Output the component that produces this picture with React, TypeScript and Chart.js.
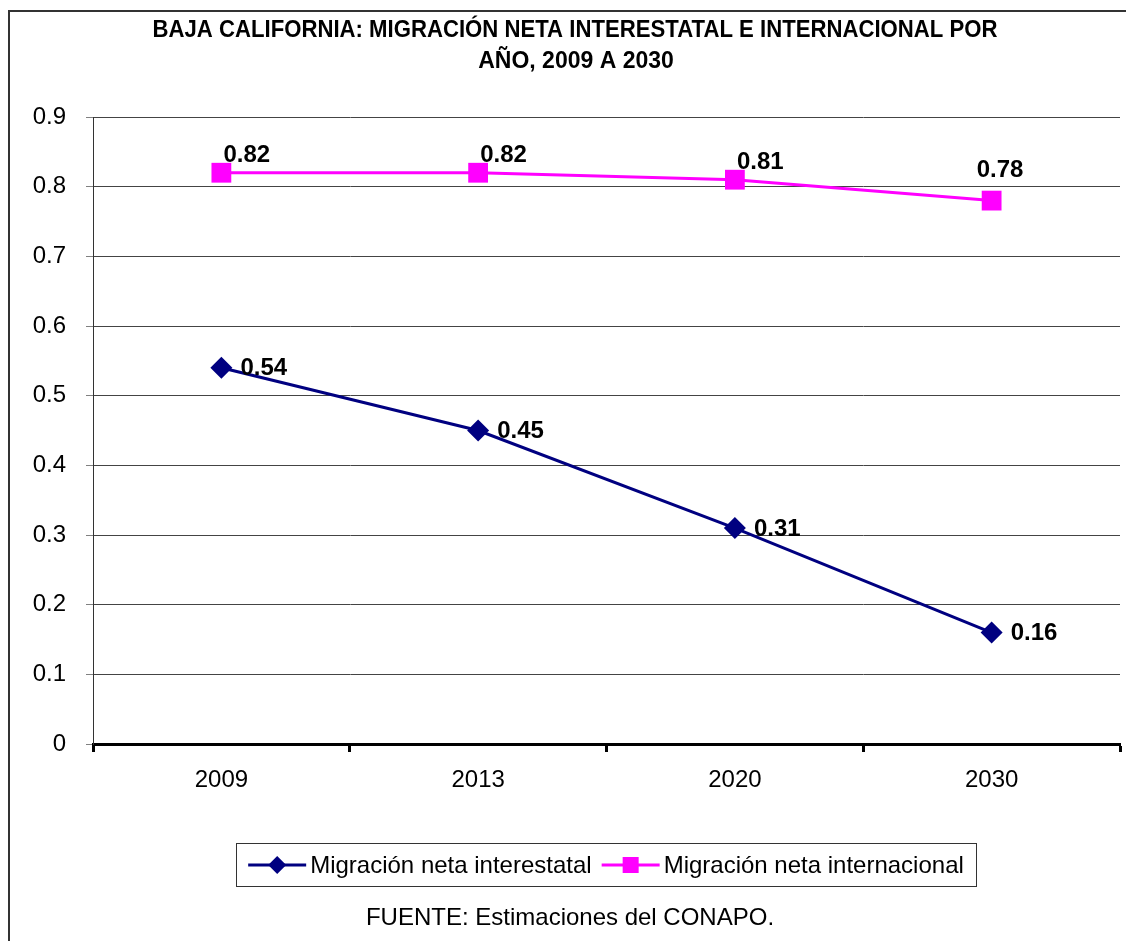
import React, { useEffect, useRef } from 'react';
import { Chart, registerables } from 'chart.js';

Chart.register(...registerables);

const years = ['2009', '2013', '2020', '2030'];
const interestatal = [0.54, 0.45, 0.31, 0.16];
const internacional = [0.82, 0.82, 0.81, 0.78];
const titleLines = [
  'BAJA CALIFORNIA: MIGRACIÓN NETA INTERESTATAL E INTERNACIONAL POR',
  'AÑO, 2009 A 2030',
];
const seriesNames = ['Migración neta interestatal', 'Migración neta internacional'];
const sourceNote = 'FUENTE: Estimaciones del CONAPO.';

const NAVY = '#000080';
const MAGENTA = '#FF00FF';
const FONT = 'Arial, "Liberation Sans", sans-serif';

function drawDiamond(ctx: CanvasRenderingContext2D, x: number, y: number, r: number, color: string) {
  ctx.beginPath();
  ctx.moveTo(x, y - r);
  ctx.lineTo(x + r, y);
  ctx.lineTo(x, y + r);
  ctx.lineTo(x - r, y);
  ctx.closePath();
  ctx.fillStyle = color;
  ctx.fill();
}

function drawSquare(ctx: CanvasRenderingContext2D, x: number, y: number, half: number, color: string) {
  ctx.fillStyle = color;
  ctx.fillRect(x - half, y - half, half * 2, half * 2);
}

const decorPlugin = {
  id: 'decor',
  afterDraw(chart: any) {
    const ctx: CanvasRenderingContext2D = chart.ctx;
    ctx.save();
    // outer frame
    ctx.strokeStyle = '#333333';
    ctx.lineWidth = 2;
    ctx.strokeRect(9, 11, 1200, 1000);

    // title
    ctx.fillStyle = '#000';
    ctx.font = `bold 23px ${FONT}`;
    ctx.textAlign = 'center';
    ctx.textBaseline = 'middle';
    ctx.fillText(titleLines[0], 575, 31, 845);
    ctx.fillText(titleLines[1], 576, 62);

    // data labels
    ctx.font = `bold 24px ${FONT}`;
    ctx.textAlign = 'left';
    ctx.textBaseline = 'middle';
    const m0 = chart.getDatasetMeta(0);
    m0.data.forEach((pt: any, i: number) => {
      ctx.fillText(interestatal[i].toFixed(2), pt.x + 19, pt.y + 1);
    });
    const m1 = chart.getDatasetMeta(1);
    m1.data.forEach((pt: any, i: number) => {
      const last = i === m1.data.length - 1;
      const dx = last ? -15 : 2;
      const dy = last ? -30 : -17;
      ctx.fillText(internacional[i].toFixed(2), pt.x + dx, pt.y + dy);
    });

    // legend
    ctx.font = `24px ${FONT}`;
    const w1 = ctx.measureText(seriesNames[0]).width;
    const w2 = ctx.measureText(seriesNames[1]).width;
    const lineLen = 58;
    const gapText = 4;
    const gapItem = 10;
    const pad = 12;
    const total = pad + lineLen + gapText + w1 + gapItem + lineLen + gapText + w2 + pad;
    const boxLeft = 606 - total / 2;
    const boxTop = 843.5;
    const boxH = 43;
    ctx.strokeStyle = '#333333';
    ctx.lineWidth = 1;
    ctx.strokeRect(Math.round(boxLeft) + 0.5, boxTop, Math.round(total), boxH);
    const ly = 865;
    let x = boxLeft + pad;
    ctx.strokeStyle = NAVY;
    ctx.lineWidth = 3;
    ctx.beginPath();
    ctx.moveTo(x, ly);
    ctx.lineTo(x + lineLen, ly);
    ctx.stroke();
    drawDiamond(ctx, x + lineLen / 2, ly, 9, NAVY);
    x += lineLen + gapText;
    ctx.fillStyle = '#000';
    ctx.textAlign = 'left';
    ctx.fillText(seriesNames[0], x, ly + 1);
    x += w1 + gapItem;
    ctx.strokeStyle = MAGENTA;
    ctx.beginPath();
    ctx.moveTo(x, ly);
    ctx.lineTo(x + lineLen, ly);
    ctx.stroke();
    drawSquare(ctx, x + lineLen / 2, ly, 8, MAGENTA);
    x += lineLen + gapText;
    ctx.fillStyle = '#000';
    ctx.fillText(seriesNames[1], x, ly + 1);

    // footer
    ctx.textAlign = 'center';
    ctx.fillText(sourceNote, 570, 918);
    ctx.restore();
  },
};

export default function App() {
  const ref = useRef<HTMLCanvasElement | null>(null);
  useEffect(() => {
    if (!ref.current) return;
    const chart = new Chart(ref.current, {
      type: 'line',
      data: {
        labels: years,
        datasets: [
          {
            label: seriesNames[0],
            data: interestatal,
            borderColor: NAVY,
            backgroundColor: NAVY,
            borderWidth: 3,
            pointStyle: 'rectRot',
            pointRadius: 11,
            pointHoverRadius: 11,
            pointBorderWidth: 0,
            tension: 0,
          },
          {
            label: seriesNames[1],
            data: internacional,
            borderColor: MAGENTA,
            backgroundColor: MAGENTA,
            borderWidth: 3,
            pointStyle: 'rect',
            pointRadius: 14,
            pointHoverRadius: 14,
            pointBorderWidth: 0,
            tension: 0,
          },
        ],
      },
      options: {
        responsive: false,
        animation: false,
        devicePixelRatio: 1,
        layout: { autoPadding: false, padding: { top: 117, left: 0, right: 6, bottom: 147 } },
        plugins: {
          legend: { display: false },
          title: { display: false },
          tooltip: { enabled: false },
        },
        scales: {
          x: {
            type: 'category',
            offset: true,
            afterFit: (s: any) => {
              s.height = 50;
              s.paddingLeft = 0;
              s.paddingRight = 0;
            },
            grid: {
              offset: true,
              drawOnChartArea: true,
              color: (c: any) => (c.index === years.length ? '#808080' : 'rgba(0,0,0,0)'),
              lineWidth: 1,
              tickColor: '#000',
              tickWidth: 3,
              tickLength: 8,
            },
            border: { display: true, color: '#000', width: 3 },
            ticks: {
              color: '#000',
              font: { family: FONT, size: 24 },
              padding: 14,
            },
          },
          y: {
            min: 0,
            max: 0.9,
            afterFit: (s: any) => {
              s.width = 93;
            },
            ticks: {
              stepSize: 0.1,
              color: '#000',
              font: { family: FONT, size: 24 },
              padding: 20,
              callback: (v: any) => String(Math.round(Number(v) * 10) / 10),
            },
            grid: {
              color: '#444444',
              lineWidth: 1,
              tickColor: '#808080',
              tickLength: 7,
            },
            border: { display: true, color: '#333333', width: 1 },
          },
        },
      },
      plugins: [decorPlugin],
    });
    return () => chart.destroy();
  }, []);
  return (
    <div style={{ position: 'absolute', left: 0, top: 0, width: 1126, height: 941, background: '#fff' }}>
      <canvas ref={ref} width={1126} height={941} style={{ display: 'block' }} />
    </div>
  );
}
